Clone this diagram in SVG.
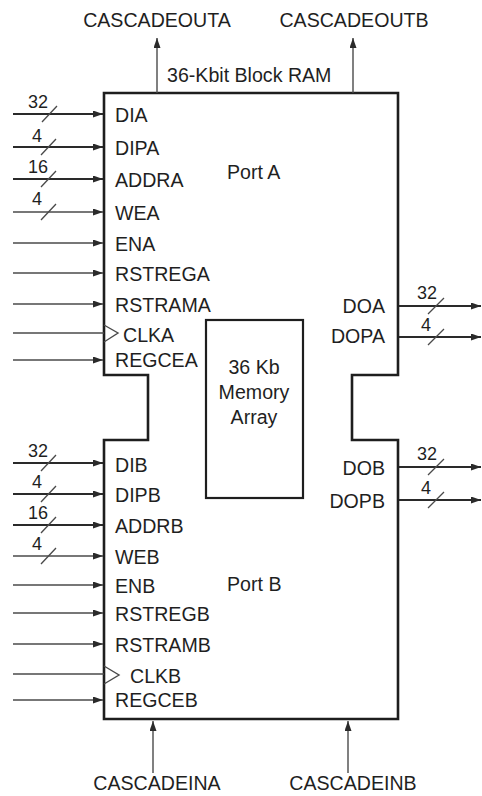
<svg xmlns="http://www.w3.org/2000/svg" width="482" height="796" viewBox="0 0 482 796">
<style>
text{font-family:"Liberation Sans",Arial,sans-serif;font-size:19.6px;fill:#1f1f1f}
.n{font-size:18px;text-anchor:middle}
.r{text-anchor:end}
.m{text-anchor:middle}
.bus{stroke:#2a2a2a;stroke-width:2.2;fill:none}
.sig{stroke:#4a4a4a;stroke-width:1.4;fill:none}
.sl{stroke:#4a4a4a;stroke-width:1.3;fill:none}
.blk{stroke:#1e1e1e;stroke-width:2.6;fill:#fff}
</style>
<defs>
<marker id="ah" markerUnits="userSpaceOnUse" markerWidth="12" markerHeight="8" refX="10" refY="3.5" orient="auto">
<path d="M0,0 L10,3.5 L0,7 Z" fill="#2a2a2a"/>
</marker>
</defs>
<g id="block">
<path class="blk" d="M104,93 H398 V375 H352 V440 H398 V719 H104 V440 H148 V375 H104 Z"/>
<text x="167" y="82">36-Kbit Block RAM</text>
<text x="227" y="179">Port A</text>
<text x="227" y="591">Port B</text>
</g>
<g id="memory">
<rect x="206" y="320" width="97" height="178" fill="#fff" stroke="#1e1e1e" stroke-width="2.2"/>
<text class="m" x="254" y="374">36 Kb</text>
<text class="m" x="254" y="399">Memory</text>
<text class="m" x="254" y="424">Array</text>
</g>
<g id="connectors">
<path class="sig" d="M157,93 V38" marker-end="url(#ah)"/>
<path class="sig" d="M353,93 V38" marker-end="url(#ah)"/>
<path class="sig" d="M153,773 V721" marker-end="url(#ah)"/>
<path class="sig" d="M348,773 V721" marker-end="url(#ah)"/>
<path class="bus" d="M13,114 H103" marker-end="url(#ah)"/>
<path class="bus" d="M13,147 H103" marker-end="url(#ah)"/>
<path class="bus" d="M13,179 H103" marker-end="url(#ah)"/>
<path class="sig" d="M13,212 H103" marker-end="url(#ah)"/>
<path class="sig" d="M13,243 H103" marker-end="url(#ah)"/>
<path class="sig" d="M13,273 H103" marker-end="url(#ah)"/>
<path class="sig" d="M13,304 H103" marker-end="url(#ah)"/>
<path class="sig" d="M13,333 H104"/>
<path class="sig" d="M13,360 H103" marker-end="url(#ah)"/>
<path class="sig" d="M104,325 L118,333 L104,342"/>
<path class="bus" d="M13,463 H103" marker-end="url(#ah)"/>
<path class="bus" d="M13,494 H103" marker-end="url(#ah)"/>
<path class="bus" d="M13,525 H103" marker-end="url(#ah)"/>
<path class="sig" d="M13,556 H103" marker-end="url(#ah)"/>
<path class="sig" d="M13,585 H103" marker-end="url(#ah)"/>
<path class="sig" d="M13,613 H103" marker-end="url(#ah)"/>
<path class="sig" d="M13,644 H103" marker-end="url(#ah)"/>
<path class="sig" d="M13,674 H104"/>
<path class="sig" d="M13,700 H103" marker-end="url(#ah)"/>
<path class="sig" d="M104,666 L119,675 L104,684"/>
<path class="bus" d="M399,306 H481" marker-end="url(#ah)"/>
<path class="bus" d="M399,337 H481" marker-end="url(#ah)"/>
<path class="bus" d="M399,467 H481" marker-end="url(#ah)"/>
<path class="bus" d="M399,500 H481" marker-end="url(#ah)"/>
<path class="sl" d="M42,122 L57,106 M41,155 L56,139 M41,187 L56,171 M41,220 L56,204"/>
<path class="sl" d="M41,471 L56,455 M41,502 L56,486 M41,533 L56,517 M41,564 L56,548"/>
<path class="sl" d="M428,314 L444,298 M428,345 L444,329 M428,475 L444,459 M428,508 L444,492"/>
</g>
<g id="labels">
<text x="157" y="27" class="m">CASCADEOUTA</text>
<text x="354" y="27" class="m">CASCADEOUTB</text>
<text x="157" y="790" class="m">CASCADEINA</text>
<text x="353" y="790" class="m">CASCADEINB</text>
<text x="115" y="122">DIA</text>
<text x="115" y="155">DIPA</text>
<text x="115" y="187">ADDRA</text>
<text x="115" y="220">WEA</text>
<text x="115" y="251">ENA</text>
<text x="115" y="281">RSTREGA</text>
<text x="115" y="312">RSTRAMA</text>
<text x="123" y="342">CLKA</text>
<text x="115" y="367">REGCEA</text>
<text x="115" y="472">DIB</text>
<text x="115" y="502">DIPB</text>
<text x="115" y="533">ADDRB</text>
<text x="115" y="564">WEB</text>
<text x="115" y="593">ENB</text>
<text x="115" y="621">RSTREGB</text>
<text x="115" y="652">RSTRAMB</text>
<text x="130" y="683">CLKB</text>
<text x="115" y="707">REGCEB</text>
<text x="385" y="313" class="r">DOA</text>
<text x="385" y="343" class="r">DOPA</text>
<text x="385" y="475" class="r">DOB</text>
<text x="385" y="508" class="r">DOPB</text>
<text x="38" y="108" class="n">32</text>
<text x="37" y="142" class="n">4</text>
<text x="38" y="173" class="n">16</text>
<text x="37" y="205" class="n">4</text>
<text x="38" y="457" class="n">32</text>
<text x="37" y="488" class="n">4</text>
<text x="38" y="519" class="n">16</text>
<text x="37" y="550" class="n">4</text>
<text x="427" y="299" class="n">32</text>
<text x="426" y="331" class="n">4</text>
<text x="427" y="460" class="n">32</text>
<text x="426" y="494" class="n">4</text>
</g>
</svg>
